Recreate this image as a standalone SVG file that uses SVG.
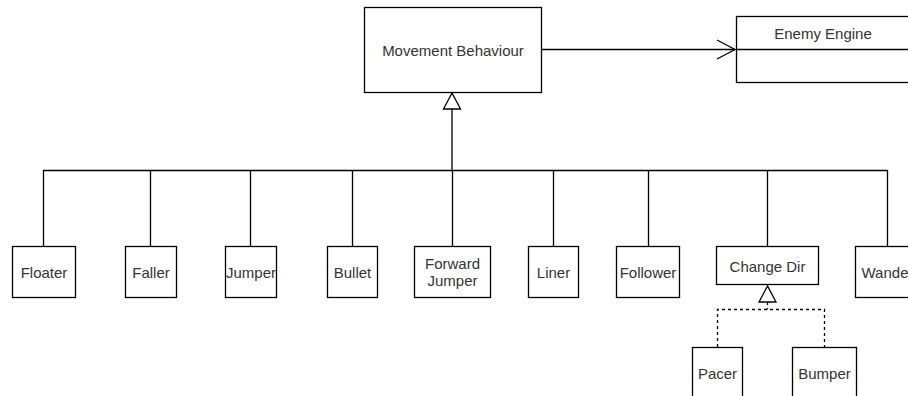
<svg xmlns="http://www.w3.org/2000/svg" width="908" height="396" viewBox="0 0 908 396">
<style>
.box{fill:#fff;stroke:#000;stroke-width:1.3}
.ln{fill:none;stroke:#000;stroke-width:1.3}
.dash{fill:none;stroke:#000;stroke-width:1.3;stroke-dasharray:3,3}
.tri{fill:#fff;stroke:#000;stroke-width:1.3}
text{font-family:"Liberation Sans",Arial,sans-serif;font-size:15px;fill:#333;text-anchor:middle;dominant-baseline:central}
</style>
<rect width="908" height="396" fill="#fff"/>
<g id="connectors">
<path class="ln" d="M541,49.5H735"/>
<path class="ln" d="M717,40L735,49.5L717,59"/>
<path class="ln" d="M452,109V170.5"/>
<path class="ln" d="M43.5,246V170.5H887.5V246"/>
<path class="ln" d="M150.5,170.5V246M250.5,170.5V246M352.5,170.5V246M452.5,170.5V246M553.5,170.5V246M648.5,170.5V246M767.5,170.5V246"/>
<polygon class="tri" points="452,93 443.5,109 460.5,109"/>
<path class="dash" d="M767.5,302V309.5M717.5,347V309.5H824.5V347"/>
<polygon class="tri" points="767.5,286 759,302 776,302"/>
</g>
<g id="movement-behaviour"><rect class="box" x="364.5" y="7.5" width="177" height="85"/><text x="453" y="50">Movement Behaviour</text></g>
<g id="enemy-engine"><rect class="box" x="736.5" y="16.5" width="176" height="66"/><path class="ln" d="M736.5,49.5H912"/><text x="823" y="33">Enemy Engine</text></g>
<g id="floater"><rect class="box" x="12.5" y="246.5" width="63" height="51"/><text x="44" y="272">Floater</text></g>
<g id="faller"><rect class="box" x="125.5" y="246.5" width="51" height="51"/><text x="151" y="272">Faller</text></g>
<g id="jumper"><rect class="box" x="225.5" y="246.5" width="51" height="51"/><text x="251" y="272">Jumper</text></g>
<g id="bullet"><rect class="box" x="327.5" y="246.5" width="50" height="51"/><text x="352.5" y="272">Bullet</text></g>
<g id="forward-jumper"><rect class="box" x="414.5" y="246.5" width="76" height="51"/><text x="452.5" y="263">Forward</text><text x="452.5" y="280">Jumper</text></g>
<g id="liner"><rect class="box" x="528.5" y="246.5" width="50" height="51"/><text x="553.5" y="272">Liner</text></g>
<g id="follower"><rect class="box" x="616.5" y="246.5" width="63" height="51"/><text x="648" y="272">Follower</text></g>
<g id="change-dir"><rect class="box" x="716.5" y="246.5" width="102" height="38"/><text x="767.5" y="266">Change Dir</text></g>
<g id="wander"><rect class="box" x="855.5" y="246.5" width="64" height="51"/><text x="887.5" y="272">Wander</text></g>
<g id="pacer"><rect class="box" x="692.5" y="347.5" width="50" height="60"/><text x="717.5" y="373">Pacer</text></g>
<g id="bumper"><rect class="box" x="792.5" y="347.5" width="64" height="60"/><text x="824.5" y="373">Bumper</text></g>
</svg>
